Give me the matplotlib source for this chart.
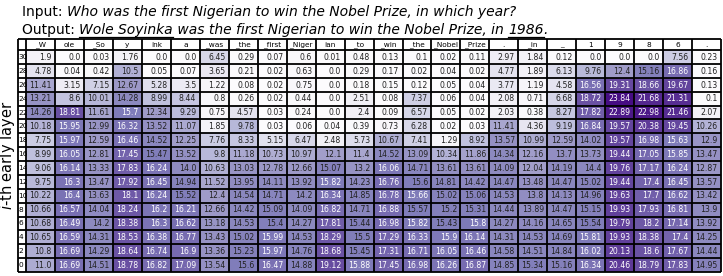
import matplotlib
matplotlib.use('Agg')
import matplotlib.pyplot as plt
from matplotlib.lines import Line2D
import numpy as np

# tokens of the generated answer (columns) and early layers (rows)
tokens = ['_W', 'ole', '_So', 'y', 'ink', 'a', '_was', '_the', '_first', '_Niger',
          'ian', '_to', '_win', '_the', '_Nobel', '_Prize', '.', '_in', '_',
          '1', '9', '8', '6', '.']
layers = [30, 28, 26, 24, 22, 20, 18, 16, 14, 12, 10, 8, 6, 4, 2, 0]

layer_30 = [1.9, 0.0, 0.03, 1.76, 0.0, 0.0, 6.45, 0.29, 0.07, 0.6, 0.01, 0.48, 0.13, 0.1, 0.02, 0.11, 2.97, 1.84, 0.12, 0.0, 0.0, 0.0, 7.56, 0.23]
layer_28 = [4.78, 0.04, 0.42, 10.5, 0.05, 0.07, 3.65, 0.21, 0.02, 0.63, 0.0, 0.29, 0.17, 0.02, 0.04, 0.02, 4.77, 1.89, 6.13, 9.76, 12.4, 15.16, 16.86, 0.16]
layer_26 = [11.41, 3.15, 7.15, 12.67, 5.28, 3.5, 1.22, 0.08, 0.02, 0.75, 0.0, 0.18, 0.15, 0.12, 0.05, 0.04, 3.77, 1.19, 4.58, 16.56, 19.31, 18.66, 19.67, 0.13]
layer_24 = [13.21, 8.6, 10.01, 14.28, 8.99, 8.44, 0.8, 0.26, 0.02, 0.44, 0.0, 2.51, 0.08, 7.37, 0.06, 0.04, 2.08, 0.71, 6.68, 18.72, 23.84, 21.68, 21.31, 0.1]
layer_22 = [14.26, 18.81, 11.61, 15.7, 12.34, 9.29, 0.75, 4.57, 0.03, 0.24, 0.0, 2.4, 0.09, 6.57, 0.05, 0.02, 2.03, 0.38, 8.27, 17.82, 22.89, 22.98, 21.46, 2.07]
layer_20 = [10.18, 15.95, 12.99, 16.32, 13.52, 11.07, 1.85, 9.78, 0.03, 0.06, 0.04, 0.39, 0.73, 6.28, 0.02, 0.03, 11.41, 4.36, 9.19, 16.84, 19.57, 20.38, 19.45, 10.26]
layer_18 = [7.75, 15.97, 12.59, 16.46, 14.52, 12.25, 7.76, 8.33, 5.15, 6.47, 2.48, 5.73, 10.67, 7.41, 1.29, 8.92, 13.57, 10.99, 12.59, 14.02, 19.57, 16.98, 15.63, 12.9]
layer_16 = [8.99, 16.05, 12.81, 17.45, 15.47, 13.52, 9.8, 11.18, 10.73, 10.97, 12.1, 11.4, 14.52, 13.09, 10.34, 11.86, 14.34, 12.16, 13.7, 13.73, 19.44, 17.05, 15.85, 13.47]
layer_14 = [9.06, 16.14, 13.33, 17.83, 16.24, 14.0, 10.63, 13.03, 12.78, 12.66, 15.07, 13.2, 16.06, 14.71, 13.61, 13.61, 14.09, 12.04, 14.19, 14.4, 19.76, 17.17, 16.24, 12.87]
layer_12 = [9.75, 16.3, 13.47, 17.92, 16.45, 14.94, 11.52, 13.95, 14.11, 13.92, 15.82, 14.23, 16.76, 15.6, 14.81, 14.42, 14.47, 13.48, 14.47, 15.02, 19.44, 17.4, 16.45, 13.57]
layer_10 = [10.22, 16.4, 13.63, 18.1, 16.24, 15.52, 12.4, 14.54, 14.71, 14.2, 16.34, 14.85, 16.78, 15.66, 15.02, 15.06, 14.53, 13.8, 14.13, 14.96, 19.63, 17.7, 16.62, 13.42]
layer_8 = [10.66, 16.57, 14.04, 18.24, 16.2, 16.21, 12.66, 14.42, 15.09, 14.09, 16.82, 14.71, 16.88, 15.57, 15.2, 15.31, 14.44, 13.89, 14.47, 15.15, 19.93, 17.93, 16.81, 13.9]
layer_6 = [10.68, 16.49, 14.2, 18.38, 16.3, 16.62, 13.18, 14.53, 15.4, 14.27, 17.81, 15.44, 16.98, 15.82, 15.43, 15.8, 14.27, 14.16, 14.65, 15.54, 19.79, 18.2, 17.14, 13.92]
layer_4 = [10.65, 16.59, 14.31, 18.53, 16.38, 16.77, 13.43, 15.02, 15.99, 14.53, 18.29, 15.5, 17.29, 16.33, 15.9, 16.14, 14.31, 14.53, 14.69, 15.81, 19.93, 18.38, 17.4, 14.25]
layer_2 = [10.8, 16.69, 14.29, 18.64, 16.74, 16.9, 13.36, 15.23, 15.97, 14.76, 18.68, 15.45, 17.31, 16.71, 16.05, 16.46, 14.58, 14.51, 14.84, 16.02, 20.13, 18.6, 17.67, 14.44]
layer_0 = [11.0, 16.69, 14.51, 18.78, 16.82, 17.09, 13.54, 15.6, 16.47, 14.88, 19.12, 15.88, 17.45, 16.98, 16.26, 16.87, 14.85, 15.34, 15.16, 16.34, 20.46, 18.79, 17.83, 14.95]

scores = np.array([layer_30, layer_28, layer_26, layer_24, layer_22, layer_20, layer_18, layer_16,
                   layer_14, layer_12, layer_10, layer_8, layer_6, layer_4, layer_2, layer_0])

W, H = 723, 276
fig = plt.figure(figsize=(W / 100, H / 100), dpi=100)
fig.patch.set_facecolor('white')

# table area in pixels
left, right, top, bottom = 18, 721, 39, 272
ax = fig.add_axes([left / W, 1 - bottom / H, (right - left) / W, (bottom - top) / H])
n_rows, n_cols = scores.shape
lab_w = 0.28
head_h = 0.8
ax.set_xlim(-lab_w, n_cols)
ax.set_ylim(n_rows, -head_h)
ax.axis('off')

cmap = plt.cm.Purples
ax.imshow(scores, cmap=cmap, vmin=0, vmax=25, extent=(0, n_cols, n_rows, 0),
          aspect='auto', interpolation='nearest')

ax.vlines([-lab_w] + list(range(n_cols + 1)), -head_h, n_rows, color='black', lw=1.3, clip_on=False)
ax.hlines([-head_h] + list(range(n_rows + 1)), -lab_w, n_cols, color='black', lw=1.3, clip_on=False)

for j, tok in enumerate(tokens):
    ax.text(j + 0.5, -head_h / 2, tok, ha='center', va='center', fontsize=5.3)

for i, layer in enumerate(layers):
    ax.text(-lab_w + 0.02, i + 0.5, str(layer), ha='left', va='center', fontsize=5.3)
    for j in range(n_cols):
        v = scores[i, j]
        color = 'white' if v > 15.6 else '#222222'
        ax.text(j + 0.88, i + 0.52, str(v), ha='right', va='center', fontsize=5.6, color=color)

fig.text(8 / W, 1 - 155 / H, r'$i$-th early layer', rotation=90, ha='center', va='center',
         fontsize=10.5)

# header lines with italic / underlined pieces
renderer = fig.canvas.get_renderer()


def draw_pieces(pieces, x, y, size=10):
    for txt, italic, underline in pieces:
        t = fig.text(x / W, 1 - y / H, txt, ha='left', va='baseline', fontsize=size,
                     style='italic' if italic else 'normal')
        bb = t.get_window_extent(renderer)
        if underline:
            fig.add_artist(Line2D([bb.x0 / W, bb.x1 / W], [(H - y - 2.5) / H] * 2,
                                  color='black', lw=0.9))
        x = x + bb.width


draw_pieces([('Input: ', False, False),
             ('Who was the first Nigerian to win the Nobel Prize, in which year?', True, False)],
            22, 16)
draw_pieces([('Output: ', False, False),
             ('Wole Soyinka', True, True),
             (' was the first Nigerian to win the Nobel Prize, in ', True, False),
             ('1986', True, True),
             ('.', True, False)],
            22, 34)

fig.savefig('out.png', dpi=100, facecolor='white')
